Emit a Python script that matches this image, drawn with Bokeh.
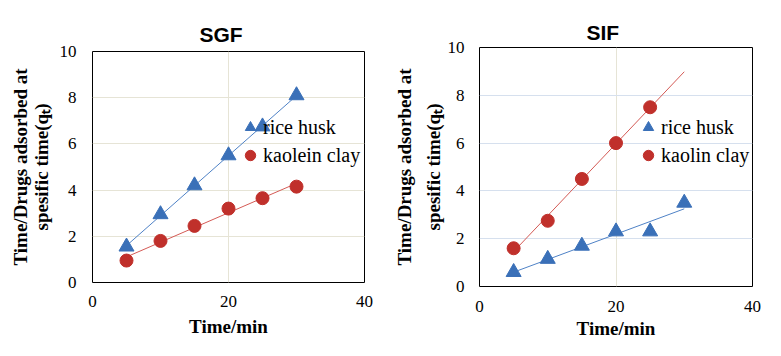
import numpy as np
from bokeh.plotting import figure
from bokeh.layouts import row, column
from bokeh.models import Legend, LegendItem, FixedTicker, Range1d
from bokeh.embed import file_html
from bokeh.resources import INLINE

# ---- data ----
sgf_time = [5, 10, 15, 20, 25, 30]
sgf_rice_husk = [1.55, 2.95, 4.2, 5.5, 6.75, 8.1]
sgf_kaolein_clay = [0.95, 1.8, 2.45, 3.2, 3.65, 4.15]

sif_time_rice = [5, 10, 15, 20, 25, 30]
sif_rice_husk = [0.6, 1.15, 1.7, 2.3, 2.3, 3.5]
sif_time_kaolin = [5, 10, 15, 20, 25]
sif_kaolin_clay = [1.6, 2.75, 4.5, 6.0, 7.5]

trend_x = [5, 30]
x_ticks = [0, 20, 40]
y_ticks = [0, 2, 4, 6, 8, 10]

BLUE = "#3a70b8"
RED = "#c0302b"
BLUE_LINE = "#4f82c6"
RED_LINE = "#d45a55"
SERIF = "Liberation Serif"


def trend(xs, ys):
    k, b = np.polyfit(xs, ys, 1)
    return [k * x + b for x in trend_x]


def make_fig(title, w, bl, br, bt, bb, hgrid_color, title_standoff, lh,
             ytick_so, ylab_so, xtick_so, xlab_so):
    p = figure(width=w, height=348, output_backend="svg", toolbar_location=None,
               x_range=Range1d(0, 40), y_range=Range1d(0, 10),
               min_border_left=bl, min_border_right=br,
               min_border_top=bt, min_border_bottom=bb)
    p.title.text = title
    p.title.align = "left"
    p.title.offset = 107
    p.title.text_font = "Liberation Sans"
    p.title.text_font_style = "bold"
    p.title.text_font_size = "21px"
    p.title.text_color = "black"
    p.title.standoff = title_standoff
    p.outline_line_color = "black"
    p.outline_line_width = 1
    p.outline_line_alpha = 1
    p.xaxis.ticker = FixedTicker(ticks=x_ticks)
    p.yaxis.ticker = FixedTicker(ticks=y_ticks)
    for ax in (p.xaxis[0], p.yaxis[0]):
        ax.axis_line_color = None
        ax.major_tick_line_color = None
        ax.minor_tick_line_color = None
        ax.major_tick_out = 0
        ax.major_tick_in = 0
        ax.major_label_text_font = SERIF
        ax.major_label_text_font_size = "17px"
        ax.major_label_text_color = "black"
        ax.axis_label_text_font = SERIF
        ax.axis_label_text_font_style = "bold"
        ax.axis_label_text_font_size = "19px"
        ax.axis_label_text_color = "black"
    p.xaxis.major_label_standoff = xtick_so
    p.yaxis.major_label_standoff = ytick_so
    p.xaxis.axis_label = "Time/min"
    p.xaxis.axis_label_standoff = xlab_so
    p.yaxis.axis_label = "Time/Drugs adsorbed at\nspesific time(q\u209c)"
    p.yaxis.axis_label_standoff = ylab_so
    p.yaxis.axis_label_text_line_height = lh
    p.xgrid.grid_line_color = "#e6e4d6"
    p.ygrid.grid_line_color = hgrid_color
    p.xgrid.grid_line_width = 1
    p.ygrid.grid_line_width = 1
    return p


def add_legend(p, items, loc):
    leg = Legend(items=items, location=loc, orientation="vertical",
                 border_line_color=None, background_fill_alpha=0,
                 padding=0, margin=0, spacing=0,
                 glyph_width=26, glyph_height=28, label_standoff=0,
                 label_text_font=SERIF, label_text_font_size="20px",
                 label_text_color="black", label_height=28)
    p.add_layout(leg, "center")


# ---- SGF ----
p1 = make_fig("SGF", 390, 92, 26, 51, 66, "#e6e4d6", 11, 1.0, 16, 5, 13, 6)
p1.line(trend_x, trend(sgf_time, sgf_rice_husk), line_color=BLUE_LINE, line_width=1)
p1.line(trend_x, trend(sgf_time, sgf_kaolein_clay), line_color=RED_LINE, line_width=1)
r1 = p1.scatter(sgf_time, sgf_rice_husk, marker="triangle", size=15,
                fill_color=BLUE, line_color=BLUE)
r2 = p1.scatter(sgf_time, sgf_kaolein_clay, marker="circle", size=13,
                fill_color=RED, line_color=RED)
add_legend(p1, [LegendItem(label="rice husk", renderers=[r1]),
                LegendItem(label="kaolein clay", renderers=[r2])], (145, 113))

# ---- SIF ----
p2 = make_fig("SIF", 382, 89, 20, 47, 62, "#d6e0ee", 7, 1.35, 15, 1, 14, 3)
p2.line(trend_x, trend(sif_time_rice, sif_rice_husk), line_color=BLUE_LINE, line_width=1)
p2.line(trend_x, trend(sif_time_kaolin, sif_kaolin_clay), line_color=RED_LINE, line_width=1)
s1 = p2.scatter(sif_time_rice, sif_rice_husk, marker="triangle", size=15,
                fill_color=BLUE, line_color=BLUE)
s2 = p2.scatter(sif_time_kaolin, sif_kaolin_clay, marker="circle", size=13,
                fill_color=RED, line_color=RED)
add_legend(p2, [LegendItem(label="rice husk", renderers=[s1]),
                LegendItem(label="kaolin clay", renderers=[s2])], (156, 117))

layout = row(column(p1), column(p2))
open("out.html", "w").write(file_html(layout, INLINE))
